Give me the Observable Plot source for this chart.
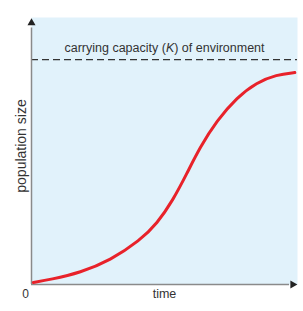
<!DOCTYPE html>
<html>
<head>
<meta charset="utf-8">
<script src="https://cdn.jsdelivr.net/npm/d3@7"></script>
<script src="https://cdn.jsdelivr.net/npm/@observablehq/plot@0.6"></script>
<style>
  html, body { margin: 0; padding: 0; background: #fff; }
  svg { display: block; }
</style>
</head>
<body>
<div id="chart"></div>
<script>
// Logistic growth curve values (time 0–100, K = 100)
const time = [0.7, 7.1, 18.4, 29.6, 40.8, 47.2, 53.2, 58.4, 63.3, 69.7, 77.2, 84.6, 92.1, 99.0];
const population = [0.9, 2.2, 5.3, 10.7, 19.6, 27.1, 37.5, 49.3, 60.9, 72.9, 83.1, 89.8, 93.3, 94.2];
const carryingCapacity = [100];
const xLabel = ["time"];
const yLabel = ["population size"];
const originLabel = ["0"];
const kLabel = ["carrying capacity (K) of environment"];

const data = time.map((t, i) => ({t, p: population[i]}));

const chart = Plot.plot({
  width: 303,
  height: 311,
  marginLeft: 31,
  marginRight: 6,
  marginTop: 17,
  marginBottom: 27,
  x: {domain: [0, 100], axis: null},
  y: {domain: [0, 118.7], axis: null},
  style: {fontFamily: "'Liberation Sans', Arial, sans-serif", background: "#fff"},
  marks: [
    Plot.frame({fill: "#e1f2fb", stroke: null}),
    // dashed carrying capacity line
    Plot.ruleY(carryingCapacity, {x1: 0, x2: 100, stroke: "#333", strokeWidth: 1.2, strokeDasharray: "7,4"}),
    Plot.text(kLabel, {x: 50, y: carryingCapacity[0], dy: -12, text: d => d, fontSize: 12.5, fill: "#333", className: "klabel"}),
    // axes
    Plot.ruleX([0], {y1: 0, y2: 114, stroke: "#8a8a8a", strokeWidth: 1.5}),
    Plot.ruleY([0], {x1: 0, x2: 97, stroke: "#8a8a8a", strokeWidth: 1.5}),
    Plot.dot([0], {x: 0, y: 116.3, symbol: "triangle", r: 3, fill: "#222", stroke: null}),
    Plot.dot([0], {x: 98.2, y: 0, symbol: "triangle", r: 3, rotate: 90, fill: "#222", stroke: null}),
    // curve
    Plot.line(data, {x: "t", y: "p", curve: "basis", stroke: "#e8222a", strokeWidth: 3, strokeLinecap: "round"}),
    // labels
    Plot.text(originLabel, {x: 0, y: 0, dx: -6, dy: 10, text: d => d, fontSize: 12, fill: "#333"}),
    Plot.text(xLabel, {frameAnchor: "bottom", dy: 13, text: d => d, fontSize: 12.5, fill: "#333"}),
    Plot.text(yLabel, {frameAnchor: "left", textAnchor: "middle", dx: -10, dy: -5, rotate: -90, text: d => d, fontSize: 14, fill: "#333"})
  ]
});
// italicise the K in the carrying capacity label
d3.select(chart).selectAll(".klabel text").each(function() {
  const s = this.textContent;
  const i = s.indexOf("K");
  if (i < 0) return;
  const el = d3.select(this);
  el.text(null);
  el.append("tspan").text(s.slice(0, i));
  el.append("tspan").attr("font-style", "italic").text("K");
  el.append("tspan").text(s.slice(i + 1));
});
document.getElementById("chart").appendChild(chart);
</script>
</body>
</html>
